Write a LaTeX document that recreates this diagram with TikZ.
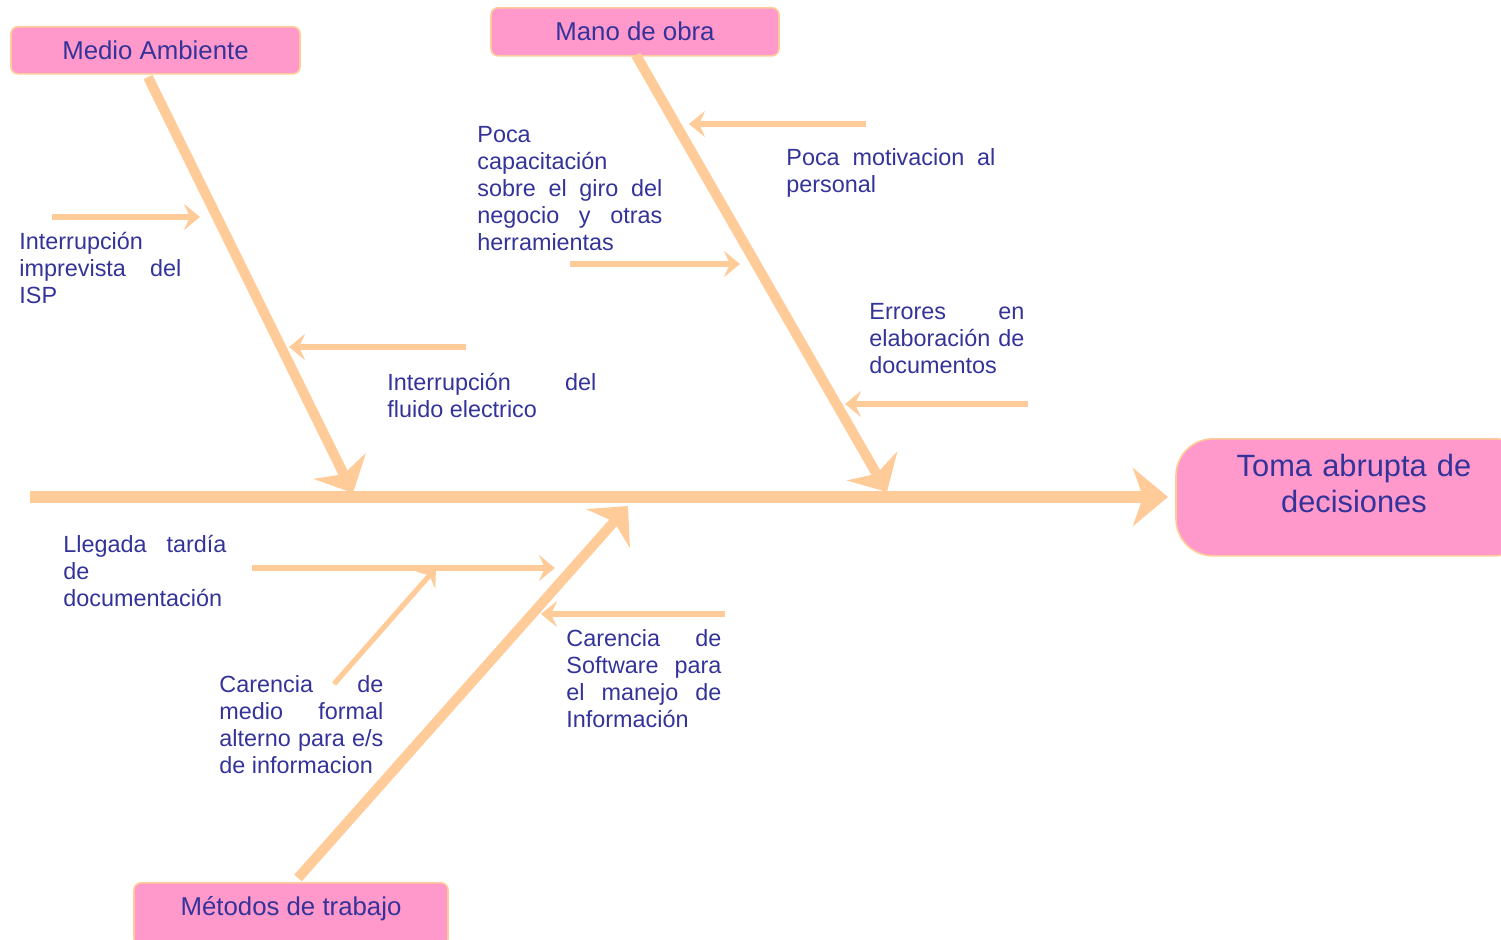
\documentclass[tikz,border=0pt]{standalone}
\usepackage{fontspec}
\setmainfont{Liberation Sans}
\usetikzlibrary{arrows.meta}
\definecolor{bonecol}{HTML}{FFCC99}
\definecolor{boxfill}{HTML}{FF99CC}
\definecolor{inkblue}{HTML}{333399}
% paragraph settings for the cause labels: no hyphenation, quiet stretched lines
\newcommand\causepar{\hyphenpenalty=10000\relax\exhyphenpenalty=10000\relax
  \tolerance=10000\relax\hbadness=10000\relax}
\begin{document}
\begin{tikzpicture}[x=0.5pt,y=-0.5pt,
  spine/.style={draw=bonecol,line width=6pt,-{Stealth[length=17.5pt,width=29pt,inset=5pt]}},
  bone/.style={draw=bonecol,line width=5pt,-{Stealth[length=15pt,width=29pt,inset=4.5pt]}},
  twig/.style={draw=bonecol,line width=2.6pt,-{Stealth[length=8pt,width=13pt,inset=3pt]}},
  catbox/.style={draw=bonecol,line width=0.8pt,fill=boxfill,rounded corners=3.5pt,
    text=inkblue,font=\fontsize{12.9}{15}\selectfont,inner sep=0pt,anchor=north,
    text height=16.5pt},
  effect/.style={draw=bonecol,line width=0.8pt,fill=boxfill,rounded corners=18.5pt,
    text=inkblue,font=\fontsize{15.4}{18}\selectfont,inner ysep=0pt,inner xsep=9pt,
    anchor=north,text width=160pt,align=center,text height=19pt,text depth=39.5pt},
  cause/.style={text=inkblue,font=\fontsize{11.7}{13.5}\selectfont,
    inner sep=0pt,anchor=base west,align=justify}
]
\useasboundingbox (0,0) rectangle (1501,939);

% category boxes and the effect
\node[catbox,minimum width=144.5pt,text depth=7pt] (ma) at (155.5,26) {Medio Ambiente};
\node[catbox,minimum width=144pt,text depth=7.5pt] (mo) at (635,7) {Mano de obra};
\node[catbox,minimum width=157pt,text depth=15pt] (mt) at (291,882) {Métodos de trabajo};
\node[effect] (ef) at (1354,438) {Toma abrupta de\\decisiones};

% cause labels
\node[cause,text width=81pt] (l1) at (19,249) {\causepar Interrupción\newline imprevista del\linebreak ISP};
\node[cause,text width=104.5pt] (l2) at (387,390) {\causepar Interrupción del\linebreak fluido electrico};
\node[cause,text width=92.5pt] (l3) at (477,142) {\causepar Poca\newline capacitación\newline sobre el giro del\linebreak negocio y otras\linebreak herramientas};
\node[cause,text width=104.5pt] (l4) at (786,165) {\causepar Poca motivacion al\linebreak personal};
\node[cause,text width=77.5pt] (l5) at (869,319) {\causepar Errores en\linebreak elaboración de\linebreak documentos};
\node[cause,text width=81.5pt] (l6) at (63,552) {\causepar Llegada tardía\linebreak de\newline documentación};
\node[cause,text width=82pt] (l7) at (219,692) {\causepar Carencia de\linebreak medio formal\linebreak alterno para e/s\linebreak de informacion};
\node[cause,text width=77.5pt] (l8) at (566,646) {\causepar Carencia de\linebreak Software para\linebreak el manejo de\linebreak Información};

% end points of the spine, bones and twigs
\coordinate (sp0) at (30,497);
\coordinate (sp1) at (1168,497);
\coordinate (b1s) at (148,77);   \coordinate (b1e) at (353,493);
\coordinate (b2s) at (636,55);   \coordinate (b2e) at (887,492);
\coordinate (b3s) at (298,878);  \coordinate (b3e) at (628,506);
\coordinate (t1s) at (866,124);  \coordinate (t1e) at (689,124);
\coordinate (t2s) at (570,264);  \coordinate (t2e) at (740,264);
\coordinate (t3s) at (1028,404); \coordinate (t3e) at (845,404);
\coordinate (t4s) at (52,217);   \coordinate (t4e) at (200,217);
\coordinate (t5s) at (466,347);  \coordinate (t5e) at (289,347);
\coordinate (t6s) at (252,568);  \coordinate (t6e) at (555,568);
\coordinate (t7s) at (334,684);  \coordinate (t7e) at (436,568);
\coordinate (t8s) at (725,614);  \coordinate (t8e) at (541,614);

% spine and main bones
\draw[spine] (sp0) -- (sp1);
\draw[bone] (b1s) -- (b1e);
\draw[bone] (b2s) -- (b2e);
\draw[bone] (b3s) -- (b3e);

% minor causes
\foreach \t in {1,...,8} \draw[twig] (t\t s) -- (t\t e);
\end{tikzpicture}
\end{document}
